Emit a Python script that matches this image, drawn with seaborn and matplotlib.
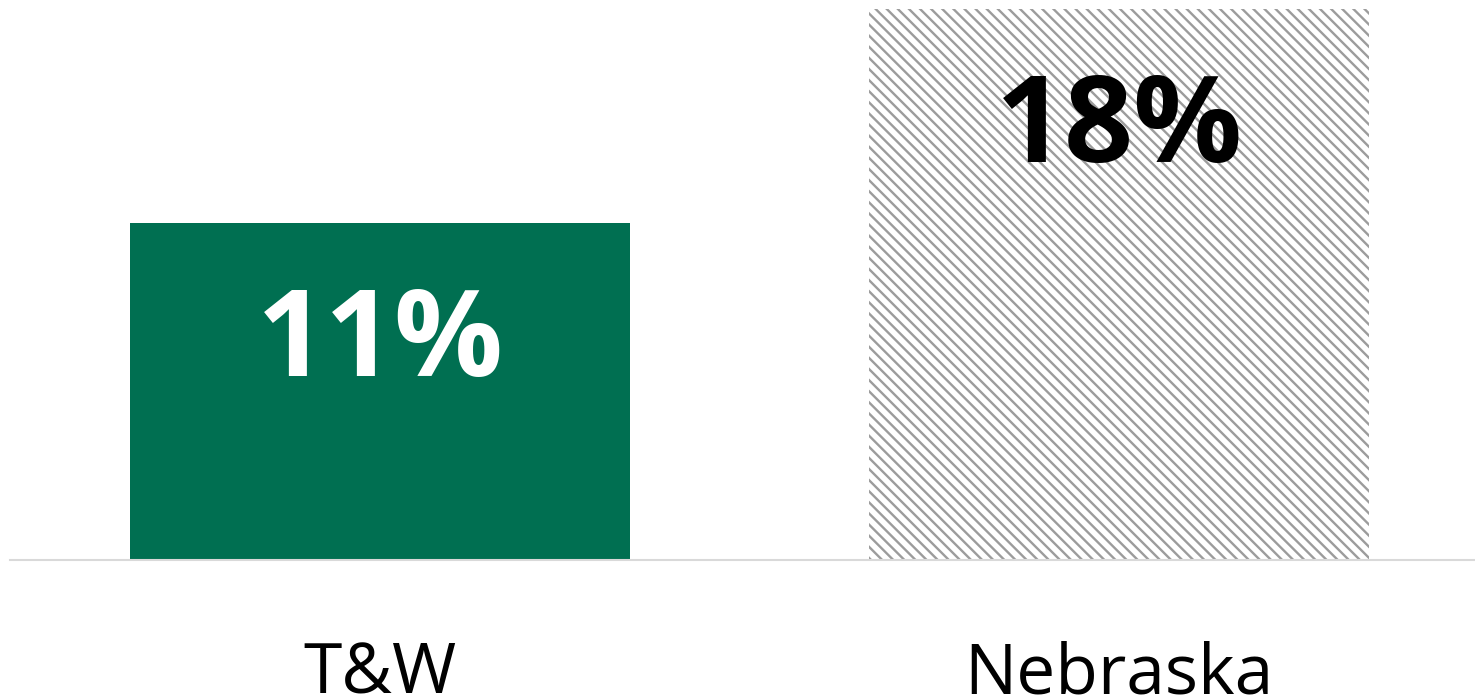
import matplotlib
matplotlib.use("Agg")
import matplotlib.pyplot as plt
import seaborn as sns
import pandas as pd

categories = ["T&W", "Nebraska"]
values = [11, 18]
value_labels = ["11%", "18%"]

sns.set_theme(style="white")
plt.rcParams["font.family"] = ["Open Sans", "DejaVu Sans"]
plt.rcParams["hatch.linewidth"] = 1.7

df = pd.DataFrame({"region": categories, "share": values})

fig = plt.figure(figsize=(14.75, 6.99), dpi=100)
ax = fig.add_axes([10 / 1475, 139 / 699, 1465 / 1475, 560 / 699])

sns.barplot(data=df, x="region", y="share", hue="region",
            palette=["#006f51", "#ffffff"], width=0.677, legend=False,
            saturation=1, ax=ax)

# Nebraska bar: white fill with grey diagonal hatching
neb = ax.patches[1]
neb.set_hatch("\\\\\\")
neb.set_edgecolor("#9c9c9c")
neb.set_linewidth(0)
ax.patches[0].set_linewidth(0)

ax.set_xlim(-0.5007, 1.4817)
ax.set_ylim(0, 18.28)

# value labels sit inside each bar, baseline a fixed distance below the top
text_colors = ["white", "black"]
for i, (lbl, col, v) in enumerate(zip(value_labels, text_colors, values)):
    ax.text(i, v - 5.0, lbl, ha="center", va="baseline", color=col,
            fontsize=87, fontweight="bold")

ax.set_xlabel("")
ax.set_ylabel("")
ax.set_yticks([])
ax.tick_params(axis="x", length=0, labelsize=50, pad=58, colors="black")
for s in ["top", "right", "left"]:
    ax.spines[s].set_visible(False)
ax.spines["bottom"].set_color("#d9d9d9")
ax.spines["bottom"].set_linewidth(1.5)

fig.savefig("out.png", dpi=100)
